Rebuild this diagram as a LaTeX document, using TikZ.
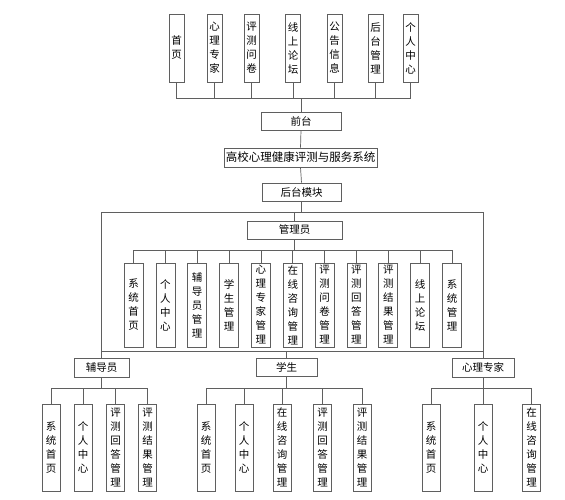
\documentclass[tikz,border=0pt]{standalone}
\usepackage{fontspec}
\setmainfont{Noto Sans CJK SC}
\begin{document}
\begin{tikzpicture}[x=1pt,y=-1pt,
  ln/.style={draw={rgb,255:red,95;green,95;blue,95},line width=0.7pt},
  hb/.style={ln,fill=white,inner sep=0pt,minimum height=18pt,font=\fontsize{10.5pt}{12pt}\selectfont},
  vb/.style={ln,fill=white,inner sep=0pt,align=center,font=\fontsize{10.5pt}{14pt}\selectfont},
  tb/.style={vb,minimum width=15pt,minimum height=68pt},
  ab/.style={vb,minimum width=19pt,minimum height=84pt},
  lb/.style={vb,minimum width=18pt,minimum height=87pt}]
\useasboundingbox (0,0) rectangle (565,500);
\fill[white] (0,0) rectangle (565,500);
% top level
\node[tb] (t1) at (176.5,48) {首\\页};
\node[tb] (t2) at (214.5,48) {心\\理\\专\\家};
\node[tb] (t3) at (251.5,48) {评\\测\\问\\卷};
\node[tb] (t4) at (293,48) {线\\上\\论\\坛};
\node[tb] (t5) at (334.5,48) {公\\告\\信\\息};
\node[tb] (t6) at (375.5,48) {后\\台\\管\\理};
\node[tb] (t7) at (410.5,48) {个\\人\\中\\心};
\coordinate (topbus) at (0,98);
\node[hb,minimum width=80pt] (qt) at (301,121) {前台};
\node[hb,minimum width=153pt,minimum height=19pt,font=\fontsize{11.5pt}{13pt}\selectfont] (sys) at (300.5,157.5) {高校心理健康评测与服务系统};
\node[hb,minimum width=79pt] (ht) at (301.5,192) {后台模块};
\draw[ln] (t1.south) -- (t1.south |- topbus) -- (t7.south |- topbus) -- (t7.south);
\foreach \i in {2,...,6} \draw[ln] (t\i.south) -- (t\i.south |- topbus);
\draw[ln] (qt.north) -- (qt.north |- topbus);
\draw[ln] (qt.south) -- (sys.north);
\draw[ln] (sys.south) -- (ht.north);
% back end
\coordinate (bigbus) at (0,212);
\coordinate (lowbus) at (0,351);
\node[hb,minimum width=95pt] (adm) at (294.5,230) {管理员};
\node[hb,minimum width=55pt,minimum height=19pt] (fdy) at (101.5,367.5) {辅导员};
\node[hb,minimum width=61pt] (stu) at (286.5,367) {学生};
\node[hb,minimum width=62pt,minimum height=19pt] (psy) at (483,367.5) {心理专家};
\draw[ln] (ht.south) -- (ht.south |- bigbus);
\draw[ln] (fdy.north) -- (fdy.north |- bigbus) -- (psy.north |- bigbus) -- (psy.north);
\draw[ln] (adm.north) -- (adm.north |- bigbus);
\draw[ln] (fdy.north |- lowbus) -- (psy.north |- lowbus);
\draw[ln] (stu.north) -- (stu.north |- lowbus);
% admin children
\coordinate (admbus) at (0,250);
\foreach \i/\t in {0/{系\\统\\首\\页},1/{个\\人\\中\\心},2/{辅\\导\\员\\管\\理},3/{学\\生\\管\\理},4/{心\\理\\专\\家\\管\\理},5/{在\\线\\咨\\询\\管\\理},6/{评\\测\\问\\卷\\管\\理},7/{评\\测\\回\\答\\管\\理},8/{评\\测\\结\\果\\管\\理},9/{线\\上\\论\\坛},10/{系\\统\\管\\理}}
  \node[ab] (a\i) at ({133.5+31.85*\i},305) {\t};
\draw[ln] (a0.north) -- (a0.north |- admbus) -- (a10.north |- admbus) -- (a10.north);
\foreach \i in {1,...,9} \draw[ln] (a\i.north) -- (a\i.north |- admbus);
\draw[ln] (adm.south) -- (adm.south |- admbus);
% lower children
\coordinate (subbus) at (0,388);
\node[lb] (f1) at (51,447.5) {系\\统\\首\\页};
\node[lb] (f2) at (83,447.5) {个\\人\\中\\心};
\node[lb] (f3) at (115.5,447.5) {评\\测\\回\\答\\管\\理};
\node[lb] (f4) at (147.5,447.5) {评\\测\\结\\果\\管\\理};
\node[lb] (s1) at (206,447.5) {系\\统\\首\\页};
\node[lb] (s2) at (244,447.5) {个\\人\\中\\心};
\node[lb] (s3) at (282,447.5) {在\\线\\咨\\询\\管\\理};
\node[lb] (s4) at (322.5,447.5) {评\\测\\回\\答\\管\\理};
\node[lb] (s5) at (362,447.5) {评\\测\\结\\果\\管\\理};
\node[lb] (p1) at (431,447.5) {系\\统\\首\\页};
\node[lb] (p2) at (483,447.5) {个\\人\\中\\心};
\node[lb] (p3) at (531.5,447.5) {在\\线\\咨\\询\\管\\理};
\draw[ln] (f1.north) -- (f1.north |- subbus) -- (f4.north |- subbus) -- (f4.north);
\foreach \i in {2,3} \draw[ln] (f\i.north) -- (f\i.north |- subbus);
\draw[ln] (fdy.south) -- (fdy.south |- subbus);
\draw[ln] (s1.north) -- (s1.north |- subbus) -- (s5.north |- subbus) -- (s5.north);
\foreach \i in {2,3,4} \draw[ln] (s\i.north) -- (s\i.north |- subbus);
\draw[ln] (stu.south) -- (stu.south |- subbus);
\draw[ln] (p1.north) -- (p1.north |- subbus) -- (p3.north |- subbus) -- (p3.north);
\draw[ln] (p2.north) -- (p2.north |- subbus);
\draw[ln] (psy.south) -- (psy.south |- subbus);
\end{tikzpicture}
\end{document}
